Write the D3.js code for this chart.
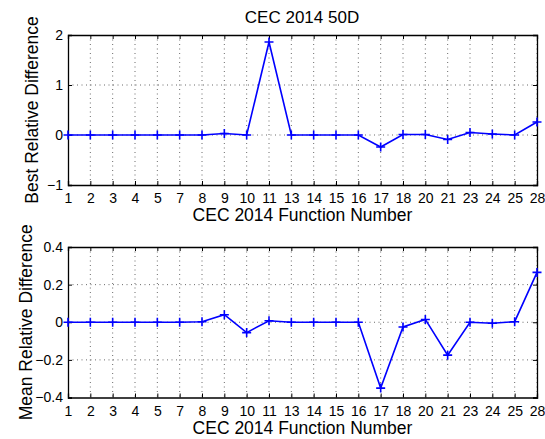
<!DOCTYPE html>
<html>
<head>
<meta charset="utf-8">
<script src="https://cdn.jsdelivr.net/npm/d3@7"></script>
<style>
  body { margin: 0; background: #fff; }
  svg { display: block; font-family: "Liberation Sans", Arial, sans-serif; }
</style>
</head>
<body>
<div id="chart"></div>
<script>
// CEC 2014 function numbers shown on the x axis
const functions = ['1', '2', '3', '4', '5', '7', '8', '9', '10', '11', '13', '14',
  '15', '16', '17', '18', '20', '21', '23', '24', '25', '28'];

// Best relative difference per function
const bestDiff = [0, 0, 0, 0, 0, 0, 0, 0.03, 0, 1.86, 0, 0,
  0, 0, -0.24, 0.01, 0.01, -0.09, 0.05, 0.02, 0, 0.26];

// Mean relative difference per function
const meanDiff = [0, 0, 0, 0, 0, 0, 0.003, 0.04, -0.055, 0.008, 0, 0,
  0, 0, -0.35, -0.025, 0.015, -0.175, 0, -0.005, 0.003, 0.265];

const bestTicks = [-1, 0, 1, 2];
const meanTicks = [-0.4, -0.2, 0, 0.2, 0.4];

const W = 545, H = 439;
const svg = d3.select('#chart').append('svg')
  .attr('width', W).attr('height', H);

svg.append('text')
  .attr('x', 302).attr('y', 23)
  .attr('text-anchor', 'middle')
  .attr('font-size', 17)
  .text('CEC 2014 50D');

function panel(top, bottom, values, ticks, ylabel, labelX, fmt) {
  const left = 68, right = 537;
  const x = d3.scalePoint().domain(functions).range([left, right]);
  const y = d3.scaleLinear().domain(d3.extent(ticks)).range([bottom, top]);
  const g = svg.append('g');

  // dotted grid
  g.append('g').selectAll('line')
    .data(functions.slice(1))
    .join('line')
    .attr('x1', d => x(d)).attr('x2', d => x(d))
    .attr('y1', top).attr('y2', bottom)
    .attr('stroke', '#444').attr('stroke-width', 0.8)
    .attr('stroke-dasharray', '1 3.5');
  g.append('g').selectAll('line')
    .data(ticks.slice(1, -1))
    .join('line')
    .attr('x1', left).attr('x2', right)
    .attr('y1', d => y(d)).attr('y2', d => y(d))
    .attr('stroke', '#444').attr('stroke-width', 0.8)
    .attr('stroke-dasharray', '1 3.5');

  // axes (ticks point inward, mirrored on top/right)
  const xb = g.append('g').attr('transform', `translate(0,${bottom})`)
    .call(d3.axisBottom(x).tickSize(-4).tickPadding(8.5));
  const xt = g.append('g').attr('transform', `translate(0,${top})`)
    .call(d3.axisTop(x).tickSize(-4).tickFormat(''));
  const yl = g.append('g').attr('transform', `translate(${left},0)`)
    .call(d3.axisLeft(y).tickValues(ticks).tickSize(-4).tickPadding(5).tickFormat(fmt));
  const yr = g.append('g').attr('transform', `translate(${right},0)`)
    .call(d3.axisRight(y).tickValues(ticks).tickSize(-4).tickFormat(''));
  [xb, xt, yl, yr].forEach(a => {
    a.select('.domain').attr('stroke', '#000').attr('stroke-width', 1.3);
    a.selectAll('.tick line').attr('stroke', '#000');
    a.selectAll('text').attr('font-size', 14).attr('fill', '#000')
      .attr('font-family', '"Liberation Sans", Arial, sans-serif');
  });

  // series line
  const line = d3.line().x((d, i) => x(functions[i])).y(d => y(d));
  g.append('path')
    .datum(values)
    .attr('d', line)
    .attr('fill', 'none')
    .attr('stroke', '#0000ff')
    .attr('stroke-width', 1.6);

  // plus markers
  const m = 4.5;
  g.append('g').selectAll('path')
    .data(values)
    .join('path')
    .attr('d', (d, i) => {
      const cx = x(functions[i]), cy = y(d);
      return `M${cx - m},${cy}H${cx + m}M${cx},${cy - m}V${cy + m}`;
    })
    .attr('stroke', '#0000ff')
    .attr('stroke-width', 1.6);

  svg.append('text')
    .attr('x', (left + right) / 2).attr('y', bottom + 36)
    .attr('text-anchor', 'middle')
    .attr('font-size', 17.5)
    .text('CEC 2014 Function Number');

  svg.append('text')
    .attr('transform', `translate(${labelX},${(top + bottom) / 2}) rotate(-90)`)
    .attr('text-anchor', 'middle')
    .attr('font-size', 17.5)
    .text(ylabel);
}

panel(35, 185, bestDiff, bestTicks, 'Best Relative Difference', 38, d3.format('d'));
panel(247, 397.5, meanDiff, meanTicks, 'Mean Relative Difference', 32,
  d => d === 0 ? '0' : d3.format('.1f')(d));
</script>
</body>
</html>
